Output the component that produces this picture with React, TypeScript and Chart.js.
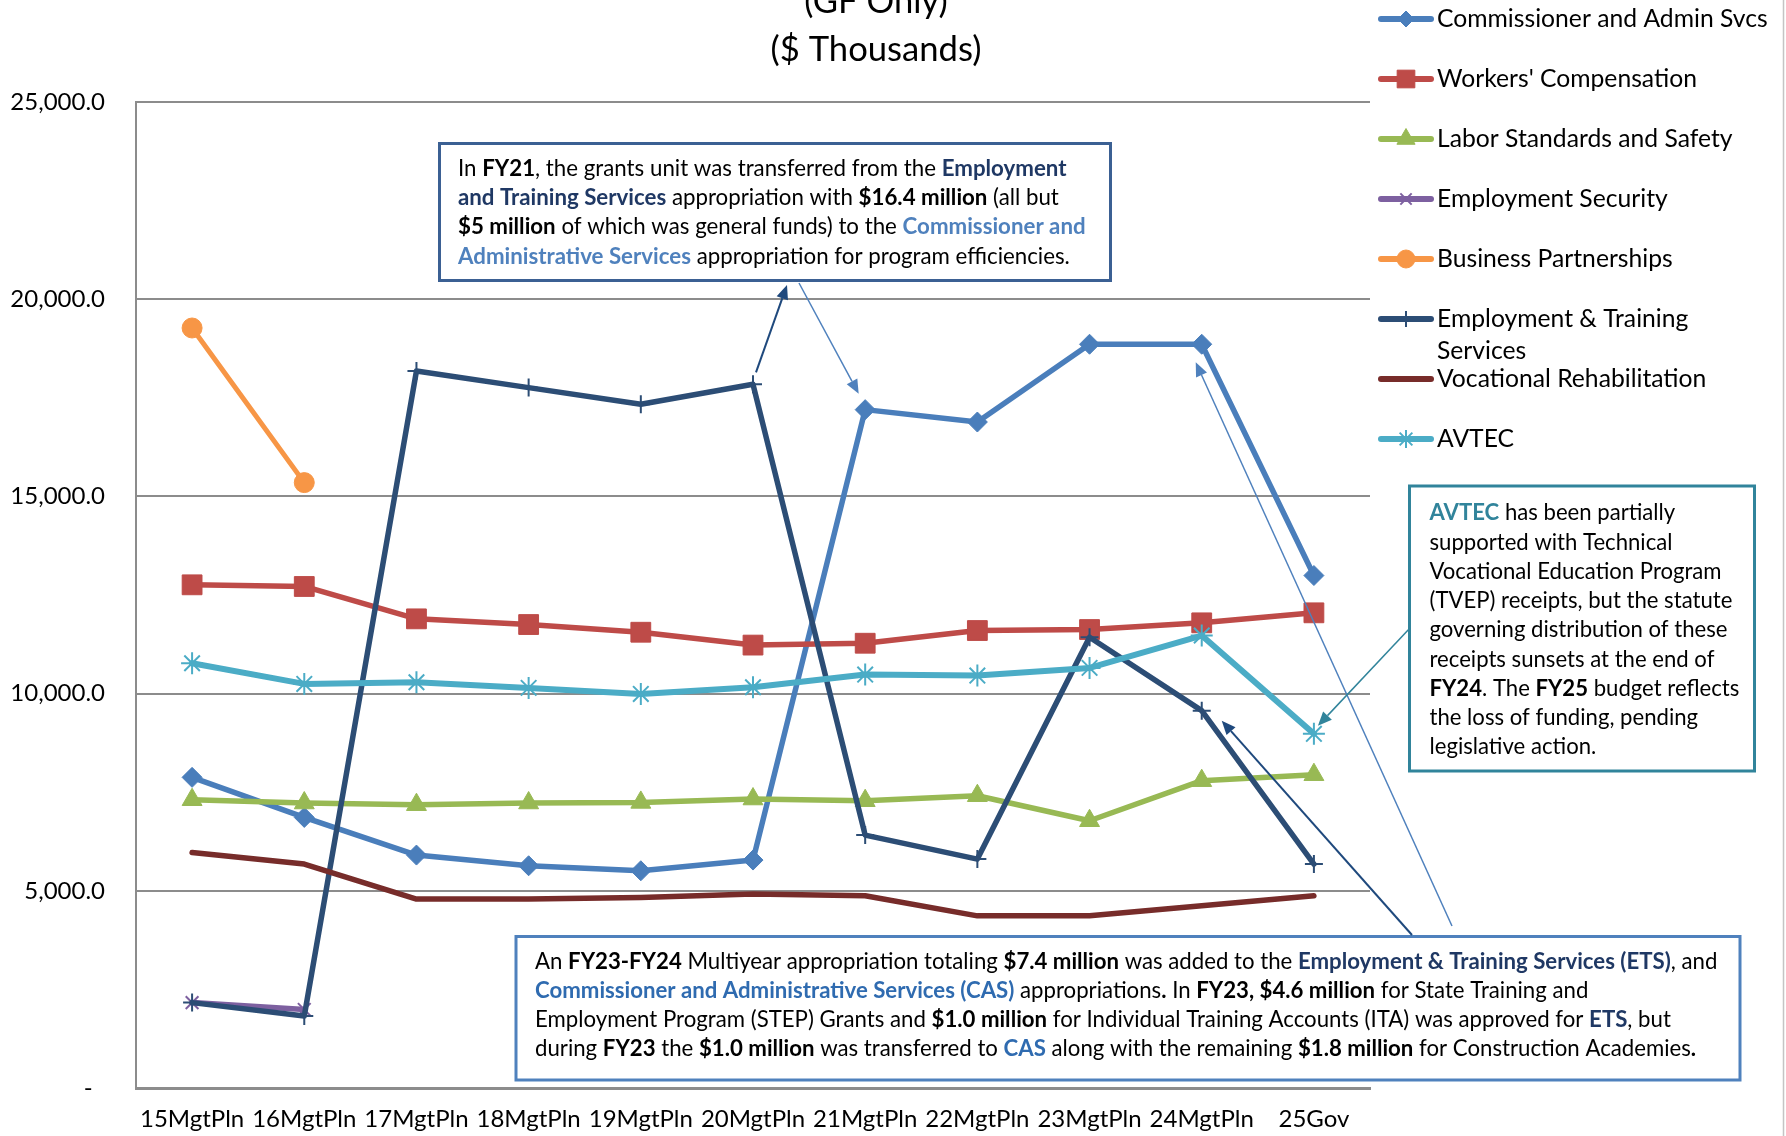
import React, { useEffect, useRef } from 'react';
import { Chart, registerables } from 'chart.js';
import { drawPoint } from 'chart.js/helpers';

Chart.register(...registerables);

const FONT = 'Lato';

// Fiscal-year columns
const CATEGORIES = [
  '15MgtPln', '16MgtPln', '17MgtPln', '18MgtPln', '19MgtPln', '20MgtPln',
  '21MgtPln', '22MgtPln', '23MgtPln', '24MgtPln', '25Gov',
];

// General-fund amounts by appropriation ($ thousands)
const COMMISSIONER_ADMIN = [7876, 6860, 5906, 5635, 5508, 5779, 17200, 16886, 18858, 18858, 12994];
const WORKERS_COMP = [12758, 12716, 11895, 11751, 11556, 11230, 11277, 11599, 11624, 11794, 12048];
const LABOR_STANDARDS = [7309, 7226, 7183, 7226, 7241, 7327, 7284, 7411, 6776, 7792, 7944];
const EMPLOYMENT_SECURITY = [2165, 1990, null, null, null, null, null, null, null, null, null];
const BUSINESS_PARTNERSHIPS = [19270, 15350, null, null, null, null, null, null, null, null, null];
const EMPLOYMENT_TRAINING = [2165, 1827, 18180, 17758, 17335, 17842, 6413, 5804, 11429, 9568, 5677];
const VOC_REHAB = [5972, 5677, 4789, 4789, 4830, 4916, 4873, 4365, 4365, 4620, 4873];
const AVTEC = [10769, 10246, 10287, 10145, 9992, 10160, 10482, 10457, 10652, 11472, 8980];

// Value axis
const Y_MIN = 0;
const Y_MAX = 25000;
const Y_STEP = 5000;

const TITLE_LINES = ['(GF Only)', '($ Thousands)'];

type SeriesStyle = {
  label: string;
  data: (number | null)[];
  color: string;
  marker: string | false;
  radius: number;
  legendRadius: number;
  width: number;
  markerBorder: number;
};

const SERIES: SeriesStyle[] = [
  { label: 'Commissioner and Admin Svcs', data: COMMISSIONER_ADMIN, color: '#4A7EBB', marker: 'rectRot', radius: 10, legendRadius: 8, width: 5.5, markerBorder: 1 },
  { label: "Workers' Compensation", data: WORKERS_COMP, color: '#BE4B48', marker: 'rect', radius: 14, legendRadius: 12.5, width: 5.5, markerBorder: 1 },
  { label: 'Labor Standards and Safety', data: LABOR_STANDARDS, color: '#98B954', marker: 'triangle', radius: 11.5, legendRadius: 10.5, width: 5.5, markerBorder: 1 },
  { label: 'Employment Security', data: EMPLOYMENT_SECURITY, color: '#7D60A0', marker: 'crossRot', radius: 9, legendRadius: 8, width: 5.5, markerBorder: 2 },
  { label: 'Business Partnerships', data: BUSINESS_PARTNERSHIPS, color: '#F79646', marker: 'circle', radius: 10, legendRadius: 9, width: 5, markerBorder: 1 },
  { label: 'Employment & Training Services', data: EMPLOYMENT_TRAINING, color: '#2C4D75', marker: 'cross', radius: 9, legendRadius: 8, width: 5.5, markerBorder: 2 },
  { label: 'Vocational Rehabilitation', data: VOC_REHAB, color: '#772C2A', marker: false, radius: 0, legendRadius: 0, width: 5.5, markerBorder: 0 },
  { label: 'AVTEC', data: AVTEC, color: '#4BACC6', marker: 'star', radius: 11, legendRadius: 9, width: 6, markerBorder: 2 },
];

// Text notes: [[x:...]] marks a bold run; the letter picks its colour
const RUN_COLORS: Record<string, string> = {
  b: '#000000',
  n: '#1F3864',
  l: '#4F81BD',
  c: '#2F6BB0',
  t: '#31849B',
};

const NOTE_FY21 = [
  'In [[b:FY21]], the grants unit was transferred from the [[n:Employment]]',
  '[[n:and Training Services]] appropriation with [[b:$16.4 million]] (all but',
  '[[b:$5 million]] of which was general funds) to the [[l:Commissioner and]]',
  '[[l:Administrative Services]] appropriation for program efficiencies.',
];

const NOTE_AVTEC = [
  '[[t:AVTEC]] has been partially',
  'supported with Technical',
  'Vocational Education Program',
  '(TVEP) receipts, but the statute',
  'governing distribution of these',
  'receipts sunsets at the end of',
  '[[b:FY24]]. The [[b:FY25]] budget reflects',
  'the loss of funding, pending',
  'legislative action.',
];

const NOTE_MULTIYEAR = [
  'An [[b:FY23-FY24]] Multiyear appropriation totaling [[b:$7.4 million]] was added to the [[n:Employment & Training Services (ETS)]], and',
  '[[c:Commissioner and Administrative Services (CAS)]] appropriations[[b:.]] In [[b:FY23, $4.6 million]] for State Training and',
  'Employment Program (STEP) Grants and [[b:$1.0 million]] for Individual Training Accounts (ITA) was approved for [[n:ETS]], but',
  'during [[b:FY23]] the [[b:$1.0 million]] was transferred to [[c:CAS]] along with the remaining [[b:$1.8 million]] for Construction Academies[[b:.]]',
];

type Note = {
  lines: string[];
  x: number; y: number; w: number; h: number;
  border: string;
  textX: number; firstLineY: number; lineGap: number;
  fitLine: number; fitWidth: number;
};

const NOTES: Note[] = [
  { lines: NOTE_FY21, x: 439.5, y: 143.5, w: 671, h: 137, border: '#3B6093', textX: 458, firstLineY: 167.5, lineGap: 29.4, fitLine: 0, fitWidth: 609 },
  { lines: NOTE_AVTEC, x: 1409.5, y: 486, w: 345, h: 285, border: '#31849B', textX: 1429.5, firstLineY: 512.5, lineGap: 29.25, fitLine: 3, fitWidth: 303 },
  { lines: NOTE_MULTIYEAR, x: 516, y: 936.5, w: 1224, h: 143.5, border: '#4F81BD', textX: 535, firstLineY: 961.5, lineGap: 29, fitLine: 0, fitWidth: 1183 },
];

// Callout arrows: an end is either a fixed spot or an offset from a plotted point
type End = { px: number; py: number } | { series: number; index: number; dx: number; dy: number };
type Arrow = { from: End; to: End; color: string; width: number };

const ARROWS: Arrow[] = [
  { from: { series: 5, index: 5, dx: 3, dy: -12 }, to: { px: 787, py: 285 }, color: '#1F497D', width: 2 },
  { from: { px: 799, py: 283 }, to: { series: 0, index: 6, dx: -6.5, dy: -16 }, color: '#4F81BD', width: 1.5 },
  { from: { px: 1452, py: 926 }, to: { series: 0, index: 9, dx: -6, dy: 18 }, color: '#4F81BD', width: 1.5 },
  { from: { px: 1412, py: 935 }, to: { series: 5, index: 9, dx: 20, dy: 10 }, color: '#1F497D', width: 2 },
  { from: { px: 1410, py: 628 }, to: { series: 7, index: 10, dx: 4, dy: -8 }, color: '#31849B', width: 1.5 },
];

type Run = { text: string; bold: boolean; color: string };

function parseRuns(line: string): Run[] {
  const out: Run[] = [];
  const re = /\[\[(\w):(.*?)\]\]/g;
  let last = 0;
  let m: RegExpExecArray | null;
  while ((m = re.exec(line))) {
    if (m.index > last) out.push({ text: line.slice(last, m.index), bold: false, color: '#000000' });
    out.push({ text: m[2], bold: true, color: RUN_COLORS[m[1]] || '#000000' });
    last = re.lastIndex;
  }
  if (last < line.length) out.push({ text: line.slice(last), bold: false, color: '#000000' });
  return out;
}

function fontOf(size: number, bold = false) {
  return `${bold ? 'bold ' : ''}${size}px ${FONT}`;
}

function runsWidth(ctx: CanvasRenderingContext2D, runs: Run[], size: number) {
  let w = 0;
  for (const r of runs) {
    ctx.font = fontOf(size, r.bold);
    w += ctx.measureText(r.text).width;
  }
  return w;
}

function drawNote(ctx: CanvasRenderingContext2D, note: Note) {
  ctx.save();
  ctx.fillStyle = '#ffffff';
  ctx.fillRect(note.x, note.y, note.w, note.h);
  ctx.strokeStyle = note.border;
  ctx.lineWidth = 3;
  ctx.strokeRect(note.x, note.y, note.w, note.h);
  const lines = note.lines.map(parseRuns);
  const base = 20;
  const size = (base * note.fitWidth) / runsWidth(ctx, lines[note.fitLine], base);
  ctx.textBaseline = 'alphabetic';
  ctx.textAlign = 'left';
  lines.forEach((runs, k) => {
    let cx = note.textX;
    const by = note.firstLineY + k * note.lineGap + 0.36 * size;
    for (const r of runs) {
      ctx.font = fontOf(size, r.bold);
      ctx.fillStyle = r.color;
      ctx.fillText(r.text, cx, by);
      cx += ctx.measureText(r.text).width;
    }
  });
  ctx.restore();
}

function endPoint(chart: Chart, e: End) {
  if ('px' in e) return { x: e.px, y: e.py };
  const el: any = chart.getDatasetMeta(e.series).data[e.index];
  return { x: el.x + e.dx, y: el.y + e.dy };
}

function drawArrow(ctx: CanvasRenderingContext2D, a: { x: number; y: number }, b: { x: number; y: number }, color: string, width: number) {
  const ang = Math.atan2(b.y - a.y, b.x - a.x);
  const headLen = 14;
  const headW = 6;
  const bx = b.x - Math.cos(ang) * headLen;
  const by = b.y - Math.sin(ang) * headLen;
  ctx.save();
  ctx.strokeStyle = color;
  ctx.fillStyle = color;
  ctx.lineWidth = width;
  ctx.beginPath();
  ctx.moveTo(a.x, a.y);
  ctx.lineTo(bx, by);
  ctx.stroke();
  ctx.beginPath();
  ctx.moveTo(b.x, b.y);
  ctx.lineTo(bx + Math.sin(ang) * headW, by - Math.cos(ang) * headW);
  ctx.lineTo(bx - Math.sin(ang) * headW, by + Math.cos(ang) * headW);
  ctx.closePath();
  ctx.fill();
  ctx.restore();
}

const decorations = {
  id: 'decorations',
  afterDraw(chart: Chart) {
    const ctx = chart.ctx;

    // Title (its upper lines run off the top edge)
    ctx.save();
    ctx.fillStyle = '#000000';
    ctx.textAlign = 'center';
    ctx.textBaseline = 'alphabetic';
    ctx.font = fontOf(33);
    const tSize = (33 * 211) / ctx.measureText(TITLE_LINES[1]).width;
    ctx.font = fontOf(tSize);
    ctx.fillText(TITLE_LINES[0], 876, 13);
    ctx.fillText(TITLE_LINES[1], 876, 61);
    ctx.restore();

    // Outer frame edge on the right
    ctx.save();
    ctx.strokeStyle = '#c4c4c4';
    ctx.lineWidth = 1.5;
    ctx.beginPath();
    ctx.moveTo(1783.5, 0);
    ctx.lineTo(1783.5, 1136);
    ctx.stroke();
    ctx.restore();

    // Legend
    ctx.save();
    const legendSize = 24.7;
    ctx.font = fontOf(legendSize);
    const wrapWidth = ctx.measureText(SERIES[0].label).width + 6;
    SERIES.forEach((s, i) => {
      const y = 19 + i * 60;
      ctx.strokeStyle = s.color;
      ctx.lineWidth = 6;
      ctx.lineCap = 'round';
      ctx.beginPath();
      ctx.moveTo(1381, y);
      ctx.lineTo(1431, y);
      ctx.stroke();
      if (s.marker) {
        ctx.fillStyle = s.color;
        ctx.strokeStyle = s.color;
        ctx.lineWidth = s.markerBorder;
        ctx.lineCap = 'butt';
        drawPoint(ctx, { pointStyle: s.marker, radius: s.legendRadius, rotation: 0, borderWidth: s.markerBorder } as any, 1406, y);
      }
      ctx.fillStyle = '#000000';
      ctx.font = fontOf(legendSize);
      ctx.textAlign = 'left';
      ctx.textBaseline = 'middle';
      const words = s.label.split(' ');
      const rows: string[] = [];
      let cur = '';
      for (const w of words) {
        const t = cur ? cur + ' ' + w : w;
        if (cur && ctx.measureText(t).width > wrapWidth) {
          rows.push(cur);
          cur = w;
        } else cur = t;
      }
      rows.push(cur);
      rows.forEach((r, k) => ctx.fillText(r, 1437, y + k * 32));
    });
    ctx.restore();

    // Callouts
    NOTES.forEach((n) => drawNote(ctx, n));
    ARROWS.forEach((a) => drawArrow(ctx, endPoint(chart, a.from), endPoint(chart, a.to), a.color, a.width));
  },
};

export default function App() {
  const canvasRef = useRef<HTMLCanvasElement | null>(null);

  useEffect(() => {
    if (!canvasRef.current) return;
    const chart = new Chart(canvasRef.current, {
      type: 'line',
      data: {
        labels: CATEGORIES,
        datasets: SERIES.map((s, i) => ({
          label: s.label,
          data: s.data,
          order: SERIES.length - 1 - i,
          borderColor: s.color,
          backgroundColor: s.color,
          borderWidth: s.width,
          borderJoinStyle: 'round',
          borderCapStyle: 'round',
          fill: false,
          tension: 0,
          spanGaps: false,
          pointStyle: s.marker || 'circle',
          pointRadius: s.radius,
          pointHoverRadius: s.radius,
          pointBackgroundColor: s.color,
          pointBorderColor: s.color,
          pointBorderWidth: s.markerBorder,
        })) as any,
      },
      options: {
        animation: false,
        responsive: false,
        maintainAspectRatio: false,
        devicePixelRatio: 1,
        events: [],
        layout: { padding: { top: 102, right: 416, left: 0, bottom: 0 } },
        plugins: {
          legend: { display: false },
          title: { display: false },
          tooltip: { enabled: false },
        },
        scales: {
          x: {
            type: 'category',
            offset: true,
            grid: { display: false, drawTicks: false },
            border: { display: true, color: '#8c8c8c', width: 3 },
            ticks: {
              color: '#000000',
              font: { family: FONT, size: 24 },
              padding: 17,
              maxRotation: 0,
              autoSkip: false,
            },
            afterFit: (s: any) => {
              s.height = 48;
            },
          },
          y: {
            min: Y_MIN,
            max: Y_MAX,
            grid: { color: '#8c8c8c', lineWidth: 2, drawTicks: false },
            border: { display: true, color: '#8c8c8c', width: 2 },
            ticks: {
              stepSize: Y_STEP,
              color: '#000000',
              font: { family: FONT, size: 24 },
              padding: 31,
              callback: (v: any) =>
                Number(v) === 0
                  ? '-  '
                  : Number(v).toLocaleString('en-US', { minimumFractionDigits: 1, maximumFractionDigits: 1 }),
            },
            afterFit: (s: any) => {
              s.width = 136;
            },
          },
        },
      },
      plugins: [decorations],
    });
    return () => chart.destroy();
  }, []);

  return (
    <div style={{ position: 'absolute', left: 0, top: 0, width: 1786, height: 1136, background: '#ffffff' }}>
      <canvas ref={canvasRef} width={1786} height={1136} style={{ display: 'block' }} />
    </div>
  );
}
